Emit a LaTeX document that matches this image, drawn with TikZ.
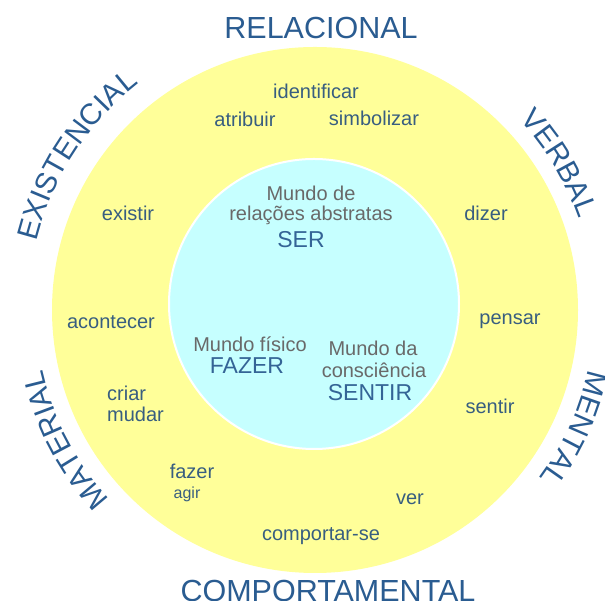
\documentclass[tikz,border=0pt]{standalone}
\usepackage{fontspec}
\setmainfont{Liberation Sans}
\usetikzlibrary{decorations.text}
\definecolor{yellowfill}{RGB}{255,255,153}
\definecolor{cyanfill}{RGB}{198,255,255}
\definecolor{verbcol}{RGB}{56,94,128}
\definecolor{graytext}{RGB}{105,105,105}
\definecolor{titleblue}{RGB}{52,100,150}
\definecolor{outerblue}{RGB}{42,92,145}
\newcommand{\labfont}{\fontsize{29.5}{29.5}\selectfont\color{outerblue}}
\begin{document}
\begin{tikzpicture}[x=1pt,y=1pt,
  verb/.style={inner sep=0pt, text=verbcol, font=\fontsize{20}{22}\selectfont},
  inner/.style={inner sep=0pt, text=graytext, font=\fontsize{20}{22}\selectfont},
  title/.style={inner sep=0pt, text=titleblue, font=\fontsize{23}{25}\selectfont},
  outer/.style={inner sep=0pt, text=outerblue, font=\fontsize{30.5}{30.5}\selectfont},
  arclabel/.style={decorate, decoration={text along path, text align=center, text={|\labfont|#1}}}]
\useasboundingbox (0,0) rectangle (605,601);
\fill[white] (0,0) rectangle (605,601);
\coordinate (O) at (315,291);
\fill[yellowfill] (O) circle[radius=263];
\coordinate (I) at (314,297);
\fill[cyanfill, draw=white, line width=2pt] (I) circle[radius=145];

% outer category labels
\node[outer] (rel) at (321,573) {RELACIONAL};
\node[outer] (comp) at (328,10) {COMPORTAMENTAL};
\path[arclabel=EXISTENCIAL] (O) ++(172:287) arc[start angle=172, end angle=122, radius=287];
\path[arclabel=VERBAL] (O) ++(56:279) arc[start angle=56, end angle=6, radius=279];
\path[arclabel=MENTAL] (O) ++(0:280) arc[start angle=0, end angle=-49, radius=280];
\path[arclabel=MATERIAL] (O) ++(232:279) arc[start angle=232, end angle=183, radius=279];

% verbs in the ring
\node[verb] (identificar) at (316,510) {identificar};
\node[verb] (atribuir) at (245,482) {atribuir};
\node[verb] (simbolizar) at (374,483) {simbolizar};
\node[verb] (existir) at (128,388) {existir};
\node[verb] (dizer) at (486,388) {dizer};
\node[verb] (acontecer) at (111,279) {acontecer};
\node[verb] (pensar) at (510,280) {pensar};
\node[verb, anchor=west] (criar) at (107,208) {criar};
\node[verb, anchor=west] (mudar) at (107,187) {mudar};
\node[verb] (sentir) at (490,195) {sentir};
\node[verb] (fazer) at (192,130) {fazer};
\node[verb, font=\fontsize{16}{18}\selectfont] (agir) at (187,107) {agir};
\node[verb] (ver) at (410,102) {ver};
\node[verb] (comportarse) at (321,65) {comportar-se};

% inner texts
\node[inner] (mundode) at (311,408) {Mundo de};
\node[inner] (relacoes) at (311,386) {relações abstratas};
\node[title] (ser) at (301,361) {SER};
\node[inner] (mfisico) at (250,257) {Mundo físico};
\node[title] (fazerT) at (247,235) {FAZER};
\node[inner] (mda) at (373,253) {Mundo da};
\node[inner] (consc) at (374,231) {consciência};
\node[title] (sentirT) at (370,208) {SENTIR};
\end{tikzpicture}
\end{document}
